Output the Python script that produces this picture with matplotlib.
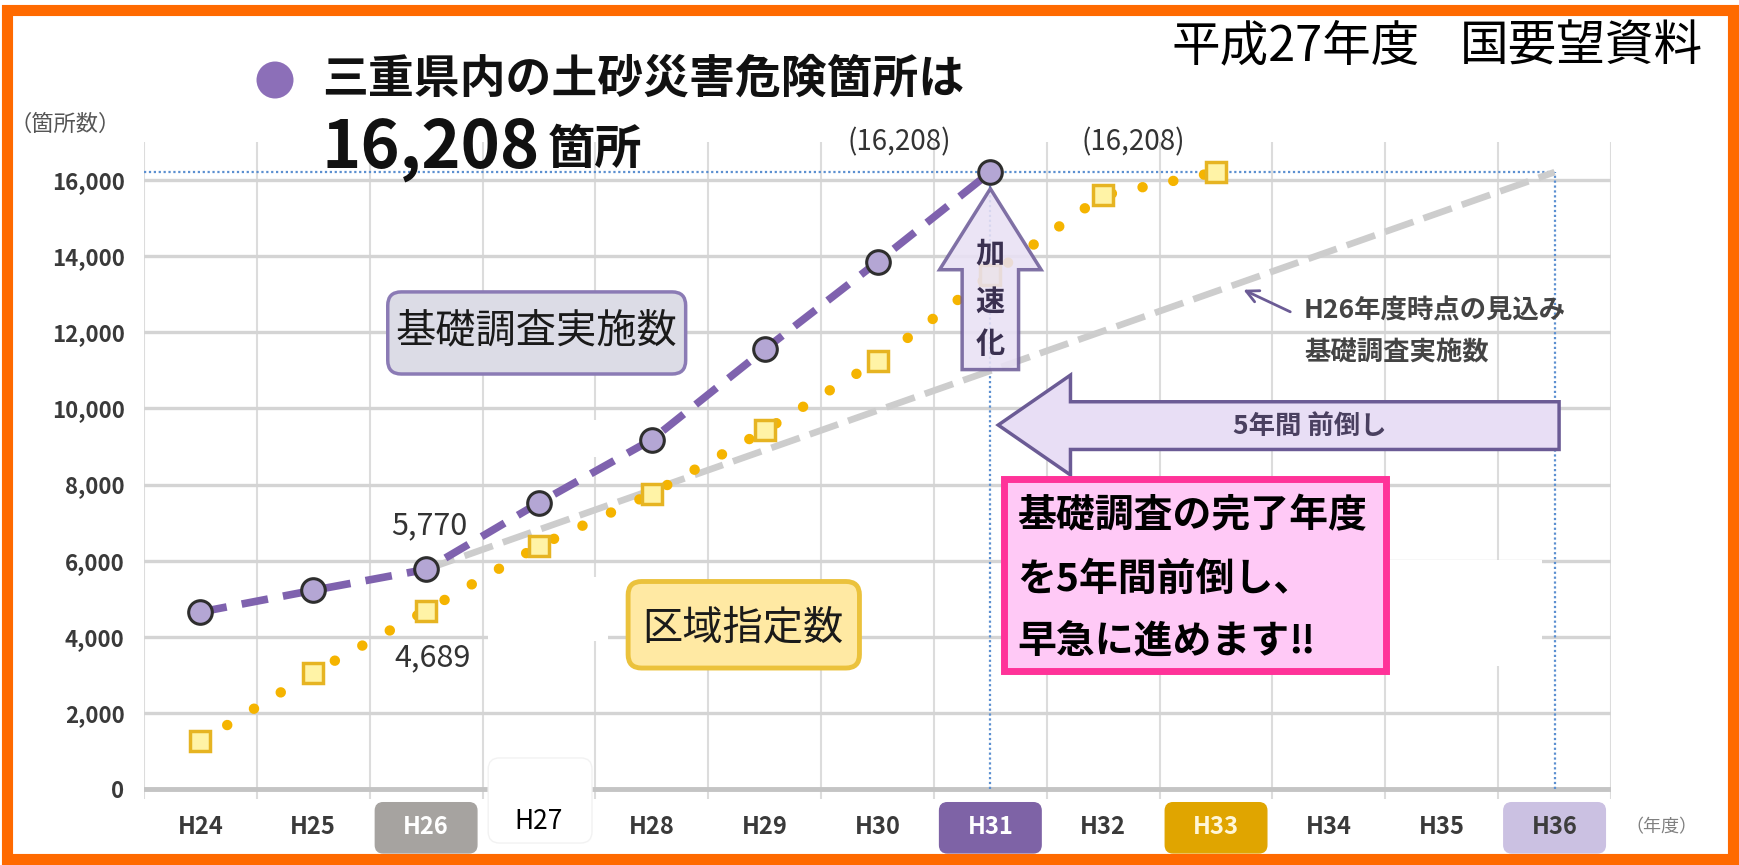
import matplotlib
matplotlib.use('Agg')
import matplotlib.pyplot as plt
from matplotlib.patches import FancyBboxPatch, Rectangle, Polygon, Ellipse
import numpy as np

plt.rcParams['font.family'] = ['Noto Sans CJK JP', 'DejaVu Sans']

# ---------------- data ----------------
years = ['H24', 'H25', 'H26', 'H27', 'H28', 'H29', 'H30', 'H31', 'H32', 'H33', 'H34', 'H35', 'H36']
survey_years = ['H24', 'H25', 'H26', 'H27', 'H28', 'H29', 'H30', 'H31']
survey_vals = [4650, 5220, 5770, 7520, 9180, 11550, 13850, 16208]
desig_years = ['H24', 'H25', 'H26', 'H27', 'H28', 'H29', 'H30', 'H31', 'H32', 'H33']
desig_vals = [1250, 3060, 4689, 6390, 7760, 9420, 11250, 13500, 15600, 16208]
plan_years = ['H26', 'H36']
plan_vals = [5770, 16208]
yticks = [0, 2000, 4000, 6000, 8000, 10000, 12000, 14000, 16000]
total = 16208

W, H = 1740, 865
fig = plt.figure(figsize=(W / 100, H / 100), dpi=100)
fig.patch.set_facecolor('white')

def xi(names):
    return [years.index(n) for n in names]

# orange frame
fig.patches.append(Rectangle((0.004, 0.007), 0.992, 0.981, transform=fig.transFigure,
                             fill=False, edgecolor='#FF6A00', linewidth=8, zorder=0))

ax = fig.add_axes([144 / W, 1 - 798.5 / H, (1611 - 144) / W, (798.5 - 142) / H])
ax.set_xlim(-0.5, 12.5)
ax.set_ylim(-250, 17000)
ax.set_axisbelow(True)
for s in ax.spines.values():
    s.set_visible(False)

ax.set_yticks(yticks)
ax.set_yticklabels([f'{v:,}' for v in yticks], fontsize=16, color='#3A3A3A', fontweight='bold')
ax.set_xticks(np.arange(-0.5, 13, 1))
ax.set_xticklabels([])
ax.tick_params(length=0, axis='y', pad=14)
ax.tick_params(length=0, axis='x')
ax.grid(axis='y', color='#D4D4D4', lw=2.4)
ax.grid(axis='x', color='#DCDCDC', lw=1.5)
ax.axhline(0, color='#C4C4C4', lw=3.5, zorder=1.2)

# white cover-up patches seen in the reference
for (x0, y0, w, h) in [(2.55, 8717, 1.06, 991), (2.55, 3878, 1.06, 1691), (10.51, 3236, 1.38, 2770)]:
    ax.add_patch(Rectangle((x0, y0), w, h, facecolor='white', edgecolor='none', zorder=1.5))

# reference dotted blue lines
ax.hlines(total, -0.5, years.index('H36'), colors='#5B8FD0', lw=1.6, linestyles=(0, (1, 1.2)), zorder=2)
ax.vlines([years.index('H31'), years.index('H36')], 0, total, colors='#5B8FD0', lw=1.6,
          linestyles=(0, (1, 1.2)), zorder=2)

# series
ax.plot(xi(plan_years), plan_vals, color='#CDCDCD', lw=4.8, ls=(0, (4.5, 1.6)), zorder=3)
ax.plot(xi(desig_years), desig_vals, color='#F5B400', lw=7.5, ls=(0, (0.01, 3.0)),
        dash_capstyle='round', zorder=4)
ax.plot(xi(desig_years), desig_vals, ls='none', marker='s', ms=15, mfc='#FFF3A6',
        mec='#E6B422', mew=2.5, zorder=4.5)
ax.plot(xi(survey_years), survey_vals, color='#7F62AE', lw=5.5, ls=(0, (3.5, 2.0)),
        marker='o', ms=17, mfc='#B4A6D4', mec='#2E2E2E', mew=2.2, zorder=5)

ASP = (1467 / 13) / (656.5 / 17250)  # px per x-unit / px per y-unit

def rbox(x0, y0, w, h, fc, ec, lw, r=0.1, z=6):
    p = FancyBboxPatch((x0, y0), w, h, boxstyle=f'round,pad=0,rounding_size={r}',
                       mutation_aspect=ASP, facecolor=fc, edgecolor=ec, lw=lw, zorder=z,
                       clip_on=False)
    ax.add_patch(p)

# labels boxes
rbox(1.66, 10904, 2.64, 2157, '#DCDCE6', '#8B7BB5', 2.5, r=0.12)
ax.text(2.98, 12041, '基礎調査実施数', fontsize=29, ha='center', va='center', color='#1A1A1A', zorder=7)
rbox(3.79, 3178, 2.05, 2274, '#FFE9A3', '#EBC23C', 3.5, r=0.12)
ax.text(4.81, 4227, '区域指定数', fontsize=29, ha='center', va='center', color='#1A1A1A', zorder=7)

# value labels
ax.text(2.03, 6910, '5,770', fontsize=22, ha='center', va='center', color='#333333', zorder=7)
ax.text(2.06, 3440, '4,689', fontsize=22, ha='center', va='center', color='#333333', zorder=7)
ax.text(6.19, 16997, '(16,208)', fontsize=20, ha='center', va='center', color='#333333', clip_on=False)
ax.text(8.27, 16997, '(16,208)', fontsize=20, ha='center', va='center', color='#333333', clip_on=False)

# 加速化 arrow
up = Polygon([(6.75, 11020), (7.25, 11020), (7.25, 13644), (7.45, 13644), (7.0, 15773),
              (6.55, 13644), (6.75, 13644)], closed=True, facecolor='#E9E1F4', alpha=0.88,
             edgecolor='#6F5E99', lw=2.5, zorder=6)
ax.add_patch(up)
for ch, yv in zip('加速化', [14080, 12800, 11690]):
    ax.text(7.0, yv, ch, fontsize=21, fontweight='bold', ha='center', va='center', color='#3A3050', zorder=7)

# 5年間 前倒し arrow
left = Polygon([(12.04, 10175), (7.71, 10175), (7.71, 10875), (7.07, 9563), (7.71, 8251),
                (7.71, 8921), (12.04, 8921)], closed=True, facecolor='#E8DEF5',
               edgecolor='#6B5B95', lw=2.5, zorder=6)
ax.add_patch(left)
ax.text(9.83, 9534, '5年間 前倒し', fontsize=19, fontweight='bold', ha='center', va='center',
        color='#4A4060', zorder=7)

# annotation for projection
ax.text(9.78, 12566, 'H26年度時点の見込み', fontsize=19, fontweight='bold', ha='left', va='center',
        color='#444444', zorder=7)
ax.text(9.78, 11458, '基礎調査実施数', fontsize=19, fontweight='bold', ha='left', va='center',
        color='#444444', zorder=7)
ax.annotate('', xy=(9.22, 13149), xytext=(9.68, 12507),
            arrowprops=dict(arrowstyle='->', color='#6B5B95', lw=2, mutation_scale=22), zorder=7)

# pink message box
ax.add_patch(Rectangle((7.12, 3090), 3.39, 5044, facecolor='#FFC9F6', edgecolor='#FF3399', lw=5, zorder=6))
for line, yv in zip(['基礎調査の完了年度', 'を5年間前倒し、', '早急に進めます‼'], [7172, 5510, 3878]):
    ax.text(7.24, yv, line, fontsize=28, fontweight='bold', ha='left', va='center', color='black', zorder=7)

# x tick labels with special boxes
box_style = {
    'H26': ('#A6A3A0', 'white', 'bold'),
    'H27': ('white', 'black', 'normal'),
    'H31': ('#7E63A6', 'white', 'bold'),
    'H33': ('#E0A500', '#FFF6D8', 'bold'),
    'H36': ('#CBC1E2', '#3D3D3D', 'bold'),
}
for i, name in enumerate(years):
    ty = -1000
    fs = 17
    if name in box_style:
        fc, tc, fw = box_style[name]
        if name == 'H27':
            rbox(i - 0.45, -1420, 0.92, 2236, 'white', '#F2F2F2', 1, r=0.1, z=2)
            ty = -850
            fs = 19
        else:
            rbox(i - 0.45, -1680, 0.9, 1320, fc, fc, 1, r=0.07, z=2)
    else:
        tc, fw = '#3A3A3A', 'bold'
    ax.text(i, ty, name, fontsize=fs, ha='center', va='center', color=tc, fontweight=fw,
            zorder=3, clip_on=False)
ax.text(12.95, -1000, '（年度）', fontsize=13, ha='center', va='center', color='#808080', clip_on=False)

# header
fig.patches.append(Ellipse((275 / W, 1 - 80 / H), 37 / W, 37 / H, transform=fig.transFigure,
                           facecolor='#8C6FB8', edgecolor='none'))
fig.text(322 / W, 1 - 80 / H, '三重県内の土砂災害危険箇所は', fontsize=33, fontweight='bold',
         ha='left', va='center', color='#111111')
fig.text(322 / W, 1 - 148 / H, '16,208', fontsize=48, fontweight='bold', ha='left', va='center',
         color='#111111')
fig.text(548 / W, 1 - 150 / H, '箇所', fontsize=34, fontweight='bold', ha='left', va='center',
         color='#111111')
fig.text(1420 / W, 1 - 47 / H, '平成27年度', fontsize=35, ha='right', va='center', color='black')
fig.text(1703 / W, 1 - 47 / H, '国要望資料', fontsize=35, ha='right', va='center', color='black')
fig.text(65 / W, 1 - 124 / H, '（箇所数）', fontsize=16, ha='center', va='center', color='#555555')

fig.savefig('out.png', dpi=100)
